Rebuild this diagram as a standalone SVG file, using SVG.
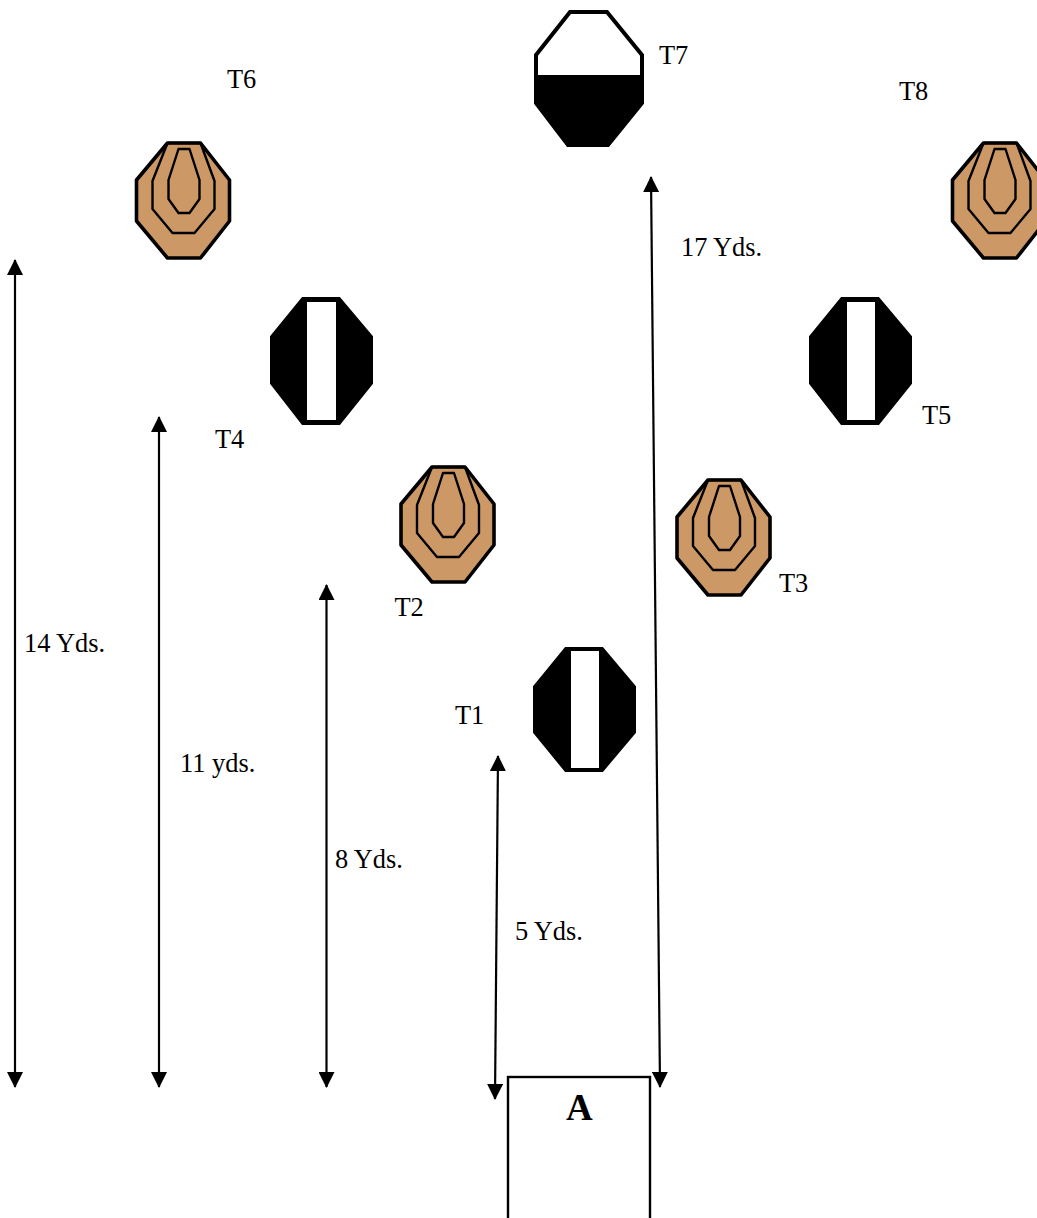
<svg xmlns="http://www.w3.org/2000/svg" width="1037" height="1218" viewBox="0 0 1037 1218">
<style>
text{font-family:"Liberation Serif","Times New Roman",serif;font-size:26.4px;fill:#000}
.big{font-size:37px;font-weight:bold}
.line{fill:none;stroke:#000;stroke-width:2.2}
.tan{fill:#cc9966;stroke:#000;stroke-width:3.6;stroke-linejoin:round}
.ring{fill:none;stroke:#000;stroke-width:2.4;stroke-linejoin:round}
.blk{fill:#000;stroke:#000;stroke-width:4}
.wht{fill:#fff}
</style>
<defs>
<marker id="ah" viewBox="0 0 16 16" refX="15" refY="8" markerWidth="16" markerHeight="16" markerUnits="userSpaceOnUse" orient="auto-start-reverse"><path d="M0 0L16 8L0 16Z" fill="#000"/></marker>
<g id="tan">
<polygon class="tan" points="31,1 64,1 93,38 93,79 64,116 31,116 0,79 0,38"/>
<polygon class="ring" points="31,1 16,39 16,67 36,91 58,91 78,67 78,39 64,1"/>
<polygon class="ring" points="42,7 53,7 63,38 63,57 53,71 42,71 32,57 32,38"/>
</g>
<polygon id="bar" class="blk" points="33,2 69,2 101,40 101,85 69,123 33,123 2,85 2,40"/>
<polygon id="tallbar" class="blk" points="33,2 69,2 101,40 101,86 69,126 33,126 2,86 2,40"/>
</defs>
<g id="connectors">
<line class="line" x1="15" y1="260" x2="15" y2="1087" marker-start="url(#ah)" marker-end="url(#ah)"/>
<line class="line" x1="159" y1="417" x2="159" y2="1087" marker-start="url(#ah)" marker-end="url(#ah)"/>
<line class="line" x1="326.5" y1="585" x2="326.5" y2="1087" marker-start="url(#ah)" marker-end="url(#ah)"/>
<line class="line" x1="498" y1="756" x2="495" y2="1099" marker-start="url(#ah)" marker-end="url(#ah)"/>
<line class="line" x1="651" y1="177" x2="660" y2="1087" marker-start="url(#ah)" marker-end="url(#ah)"/>
</g>
<g id="T1"><use href="#bar" x="533" y="647"/><rect class="wht" x="571" y="651" width="28" height="117"/><text x="455" y="724">T1</text></g>
<g id="T2"><use href="#tan" x="401" y="466"/><text x="394.500" y="616">T2</text></g>
<g id="T3"><use href="#tan" x="677" y="479"/><text x="779" y="592">T3</text></g>
<g id="T4"><use href="#tallbar" x="270" y="297"/><rect class="wht" x="307" y="302" width="29" height="118"/><text x="215" y="448">T4</text></g>
<g id="T5"><use href="#tallbar" x="809" y="297"/><rect class="wht" x="847" y="302" width="28" height="118"/><text x="922" y="424">T5</text></g>
<g id="T6"><use href="#tan" x="136.500" y="142"/><text x="227" y="88">T6</text></g>
<g id="T7">
<polygon class="blk" style="fill:#fff" points="570,12 607,12 642,55 642,103 608,145 568,145 536,103 536,55"/>
<polygon fill="#000" points="536,75 642,75 642,103 608,145 568,145 536,103"/>
<text x="659" y="64">T7</text>
</g>
<g id="T8"><use href="#tan" x="952.500" y="142"/><text x="899" y="100">T8</text></g>
<g id="A"><rect x="508" y="1077" width="142" height="145" fill="none" stroke="#000" stroke-width="2.4"/><text class="big" x="566" y="1120">A</text></g>
<g id="labels">
<text x="24" y="652">14 Yds.</text>
<text x="180" y="772">11 yds.</text>
<text x="335" y="868">8 Yds.</text>
<text x="515" y="940">5 Yds.</text>
<text x="681" y="256">17 Yds.</text>
</g>
</svg>
